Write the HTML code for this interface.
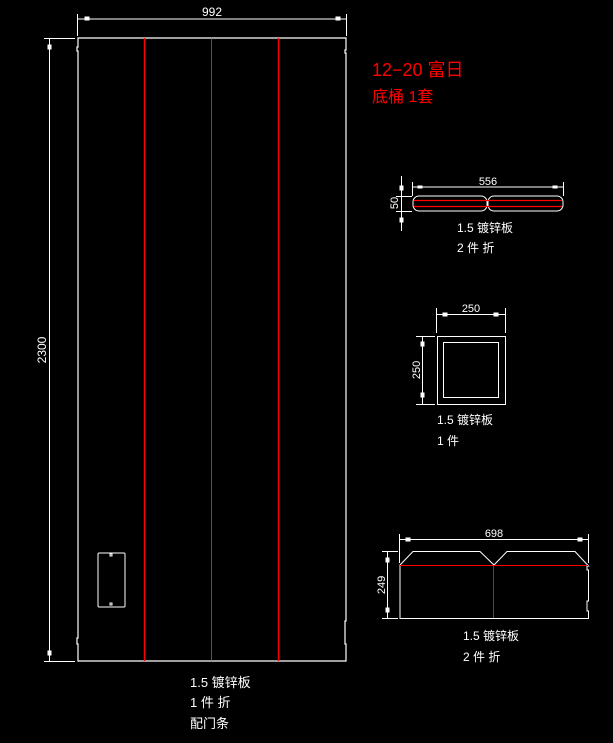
<!DOCTYPE html><html><head><style>body{margin:0;background:#000}svg{display:block}text{font-family:"Liberation Sans","WenQuanYi Zen Hei",sans-serif;fill:#fff}</style></head><body>
<svg width="613" height="743" xmlns="http://www.w3.org/2000/svg" stroke="#fff" fill="none" stroke-width="1">
<!-- main panel -->
<path d="M78 38H346V50H345V53H346V621H345V644H346V661H78V644H77V638H78V51H77V47H78Z" stroke-width="1.2"/>
<line x1="144.5" y1="38" x2="144.5" y2="661" stroke="#f00" stroke-width="1.5"/>
<line x1="211.5" y1="38" x2="211.5" y2="661" stroke="#c44" stroke-width="0.8"/>
<line x1="278.5" y1="38" x2="278.5" y2="661" stroke="#f00" stroke-width="1.5"/>
<rect x="98" y="553" width="27" height="54" rx="1"/>
<rect x="110" y="554" width="2" height="2"/><rect x="110" y="603" width="2" height="2"/>
<!-- dims main -->
<line x1="78" y1="19" x2="346" y2="19"/><line x1="77.5" y1="14" x2="77.5" y2="36"/><line x1="346.5" y1="14" x2="346.5" y2="36"/>
<rect x="85" y="17" width="4" height="3" fill="#fff"/><rect x="336" y="17" width="4" height="3" fill="#fff"/>
<text x="212" y="16" font-size="12" text-anchor="middle" stroke="none">992</text>
<line x1="44" y1="38.5" x2="75" y2="38.5"/><line x1="44" y1="661.5" x2="75" y2="661.5"/><line x1="49.5" y1="38" x2="49.5" y2="661"/>
<rect x="48" y="45" width="3" height="4" fill="#fff"/><rect x="48" y="651" width="3" height="4" fill="#fff"/>
<text transform="translate(46,350) rotate(-90)" font-size="12" text-anchor="middle" stroke="none">2300</text>
<text x="190" y="687" font-size="13" stroke="none">1.5 镀锌板</text>
<text x="190" y="707" font-size="13" stroke="none">1 件 折</text>
<text x="190" y="728" font-size="13" stroke="none">配门条</text>
<!-- title -->
<text x="372" y="76" font-size="18" fill="#f00" style="fill:#f00" stroke="none">12−20 富日</text>
<text x="372" y="102" font-size="16" style="fill:#f00" stroke="none">底桶 1套</text>
<!-- strip -->
<line x1="413" y1="187" x2="563" y2="187"/><line x1="412.5" y1="182" x2="412.5" y2="196"/><line x1="563.5" y1="182" x2="563.5" y2="196"/>
<rect x="418" y="186" width="4" height="2" fill="#fff"/><rect x="553" y="186" width="4" height="2" fill="#fff"/>
<text x="488" y="185" font-size="11" text-anchor="middle" stroke="none">556</text>
<rect x="413" y="196" width="74" height="15" rx="6"/><rect x="488" y="196" width="75" height="15" rx="6"/>
<line x1="414" y1="200.5" x2="562" y2="200.5" stroke="#f00" stroke-width="1.3"/><line x1="414" y1="206.5" x2="562" y2="206.5" stroke="#f00" stroke-width="1.3"/>
<line x1="401.5" y1="176" x2="401.5" y2="231"/><line x1="396" y1="196.5" x2="412" y2="196.5"/><line x1="396" y1="211.5" x2="412" y2="211.5"/>
<rect x="400" y="186" width="3" height="4" fill="#fff"/><rect x="400" y="218" width="3" height="4" fill="#fff"/>
<text transform="translate(398,203) rotate(-90)" font-size="11" text-anchor="middle" stroke="none">50</text>
<text x="457" y="232" font-size="12" stroke="none">1.5 镀锌板</text>
<text x="457" y="252" font-size="12" stroke="none">2 件 折</text>
<!-- square -->
<rect x="437.5" y="336.5" width="68" height="68"/><rect x="443.5" y="342.5" width="55" height="55"/>
<line x1="437" y1="314.5" x2="505" y2="314.5"/><line x1="436.5" y1="308" x2="436.5" y2="333"/><line x1="505.5" y1="308" x2="505.5" y2="333"/>
<rect x="443" y="313" width="4" height="3" fill="#fff"/><rect x="494" y="313" width="4" height="3" fill="#fff"/>
<text x="471" y="312" font-size="11" text-anchor="middle" stroke="none">250</text>
<line x1="422.5" y1="336" x2="422.5" y2="404"/><line x1="416" y1="336.5" x2="435" y2="336.5"/><line x1="416" y1="404.5" x2="435" y2="404.5"/>
<rect x="421" y="342" width="3" height="4" fill="#fff"/><rect x="421" y="393" width="3" height="4" fill="#fff"/>
<text transform="translate(420,370) rotate(-90)" font-size="11" text-anchor="middle" stroke="none">250</text>
<text x="437" y="424" font-size="12" stroke="none">1.5 镀锌板</text>
<text x="437" y="445" font-size="12" stroke="none">1 件</text>
<!-- bottom shape -->
<path d="M400 618.5H588.5V611H587V601H588.5V570H587V566H588.5L575 551.5H507L494 565L480 551.5H413L400 565Z"/>
<line x1="400" y1="565.5" x2="588" y2="565.5" stroke="#f00"/><line x1="493.5" y1="565" x2="493.5" y2="618" stroke="#f00"/>
<line x1="400" y1="539.5" x2="588" y2="539.5"/><line x1="399.5" y1="534" x2="399.5" y2="563"/><line x1="588.5" y1="534" x2="588.5" y2="563"/>
<rect x="406" y="538" width="4" height="3" fill="#fff"/><rect x="578" y="538" width="4" height="3" fill="#fff"/>
<text x="494" y="537" font-size="11" text-anchor="middle" stroke="none">698</text>
<line x1="387.5" y1="551" x2="387.5" y2="618"/><line x1="382" y1="551.5" x2="398" y2="551.5"/><line x1="382" y1="618.5" x2="398" y2="618.5"/>
<rect x="386" y="558" width="3" height="4" fill="#fff"/><rect x="386" y="608" width="3" height="4" fill="#fff"/>
<text transform="translate(385,585) rotate(-90)" font-size="11" text-anchor="middle" stroke="none">249</text>
<text x="463" y="640" font-size="12" stroke="none">1.5 镀锌板</text>
<text x="463" y="661" font-size="12" stroke="none">2 件 折</text>
</svg></body></html>
